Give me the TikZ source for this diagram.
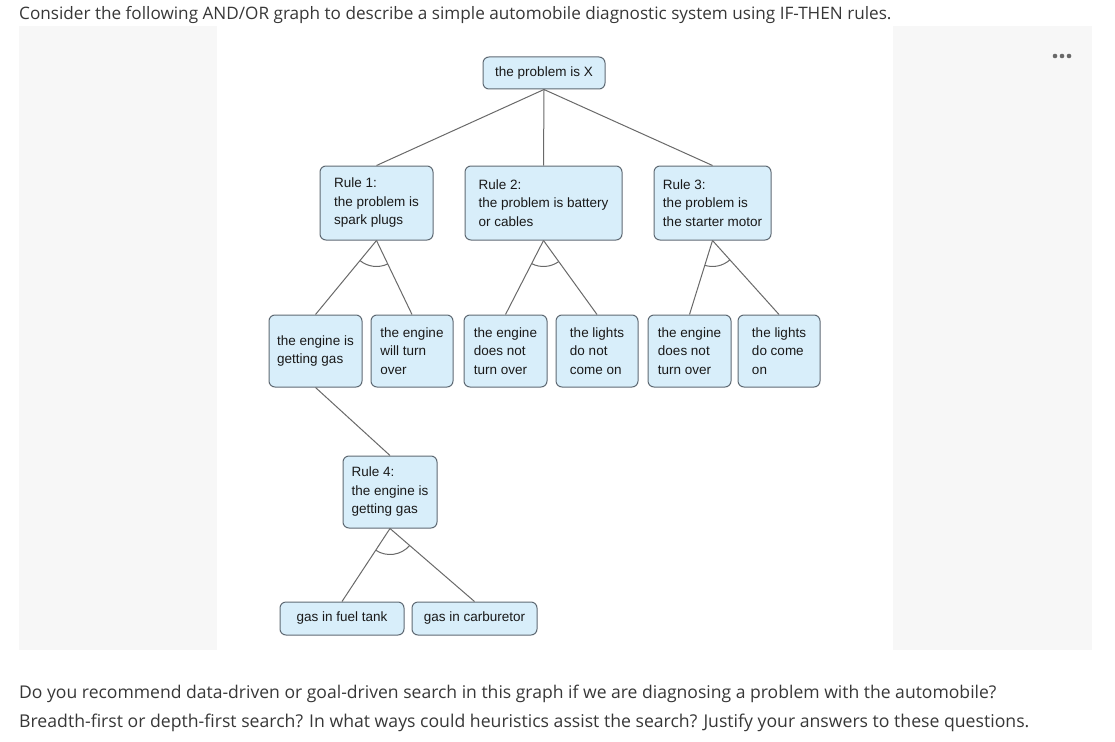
\documentclass[tikz,border=0pt]{standalone}
\usepackage{fontspec}
\setmainfont{Liberation Sans}
\newfontfamily\opensans{Open Sans}
\usepackage{xcolor}
\usetikzlibrary{angles}
\definecolor{boxfill}{RGB}{216,238,250}
\definecolor{boxline}{RGB}{95,106,116}
\definecolor{edgegray}{RGB}{105,105,105}
\definecolor{panelgray}{RGB}{247,247,247}
\definecolor{textgray}{RGB}{55,55,55}
\definecolor{dotgray}{RGB}{105,105,105}

\begin{document}
\begin{tikzpicture}[
  x=1pt, y=1pt,
  box/.style={draw=boxline, fill=boxfill, rounded corners=6pt, line width=1pt,
    align=left, inner sep=0pt, text=black!90, font=\fontsize{13.5}{18.5}\selectfont},
  boxsize/.style 2 args={minimum width=#1pt, minimum height=#2pt},
  edge/.style={draw=edgegray, line width=1pt},
  andarc/.style={draw=edgegray, line width=1pt, angle radius=26pt},
  qtext/.style={anchor=base west, inner sep=0pt, text=textgray}
]
  \useasboundingbox (0,0) rectangle (1115,-741);
  % page panels
  \fill[panelgray] (19,-26) rectangle (1092,-650);
  \fill[white] (217,-26) rectangle (893,-650);
  \foreach \dx in {1055,1062,1069}
    \fill[dotgray] (\dx,-56) circle (2.3);

  % question text
  \node[qtext, font=\opensans\fontsize{17.15}{20}\selectfont] (intro) at (19,-20) {Consider the following AND/OR graph to describe a simple automobile diagnostic system using IF-THEN rules.};
  \node[qtext, font=\opensans\fontsize{17.55}{20}\selectfont] (ask1) at (19,-698) {Do you recommend data-driven or goal-driven search in this graph if we are diagnosing a problem with the automobile?};
  \node[qtext, font=\opensans\fontsize{17.65}{20}\selectfont] (ask2) at (19,-727) {Breadth-first or depth-first search? In what ways could heuristics assist the search? Justify your answers to these questions.};

  % goal and rules
  \node[box, boxsize={122}{32}] (goal) at (544,-73) {the problem is X};
  \node[box, boxsize={113}{74}] (rule1) at (376.5,-203) {Rule 1:\\the problem is\\spark plugs};
  \node[box, boxsize={157}{74}] (rule2) at (543.5,-203) {Rule 2:\\the problem is battery\\or cables};
  \node[box, boxsize={117}{74}] (rule3) at (712.5,-203) {Rule 3:\\the problem is\\the starter motor};

  % conditions
  \node[box, boxsize={93}{72}] (gas) at (315.5,-351) {the engine is\\getting gas};
  \node[box, boxsize={82}{72}] (turns) at (412,-351) {the engine\\will turn\\over};
  \node[box, boxsize={83}{72}] (noturnA) at (505.5,-351) {the engine\\does not\\turn over};
  \node[box, boxsize={82}{72}] (nolights) at (597,-351) {the lights\\do not\\come on};
  \node[box, boxsize={83}{72}] (noturnB) at (689.5,-351) {the engine\\does not\\turn over};
  \node[box, boxsize={82}{72}] (lights) at (779,-351) {the lights\\do come\\on};

  \node[box, boxsize={94}{72}] (rule4) at (390,-492) {Rule 4:\\the engine is\\getting gas};
  \node[box, boxsize={124}{33}] (tank) at (342,-618.5) {gas in fuel tank};
  \node[box, boxsize={125}{33}] (carb) at (474.5,-618.5) {gas in carburetor};

  % or links
  \draw[edge] (goal.south) -- (rule1.north);
  \draw[edge] (goal.south) -- (rule2.north);
  \draw[edge] (goal.south) -- (rule3.north);
  \draw[edge] (gas.south) -- (rule4.north);

  % and links
  \draw[edge] (rule1.south) -- (gas.north);
  \draw[edge] (rule1.south) -- (turns.north);
  \draw[edge] (rule2.south) -- (noturnA.north);
  \draw[edge] (rule2.south) -- (nolights.north);
  \draw[edge] (rule3.south) -- (noturnB.north);
  \draw[edge] (rule3.south) -- (lights.north);
  \draw[edge] (rule4.south) -- (tank.north);
  \draw[edge] (rule4.south) -- (carb.north);

  \coordinate (r1s) at (rule1.south);
  \coordinate (r2s) at (rule2.south);
  \coordinate (r3s) at (rule3.south);
  \coordinate (r4s) at (rule4.south);
  \coordinate (gasn) at (gas.north);
  \coordinate (turnsn) at (turns.north);
  \coordinate (noan) at (noturnA.north);
  \coordinate (nolightsn) at (nolights.north);
  \coordinate (nobn) at (noturnB.north);
  \coordinate (lightsn) at (lights.north);
  \coordinate (tankn) at (tank.north);
  \coordinate (carbn) at (carb.north);
  \pic[andarc] {angle = gasn--r1s--turnsn};
  \pic[andarc] {angle = noan--r2s--nolightsn};
  \pic[andarc] {angle = nobn--r3s--lightsn};
  \pic[andarc] {angle = tankn--r4s--carbn};
\end{tikzpicture}
\end{document}
